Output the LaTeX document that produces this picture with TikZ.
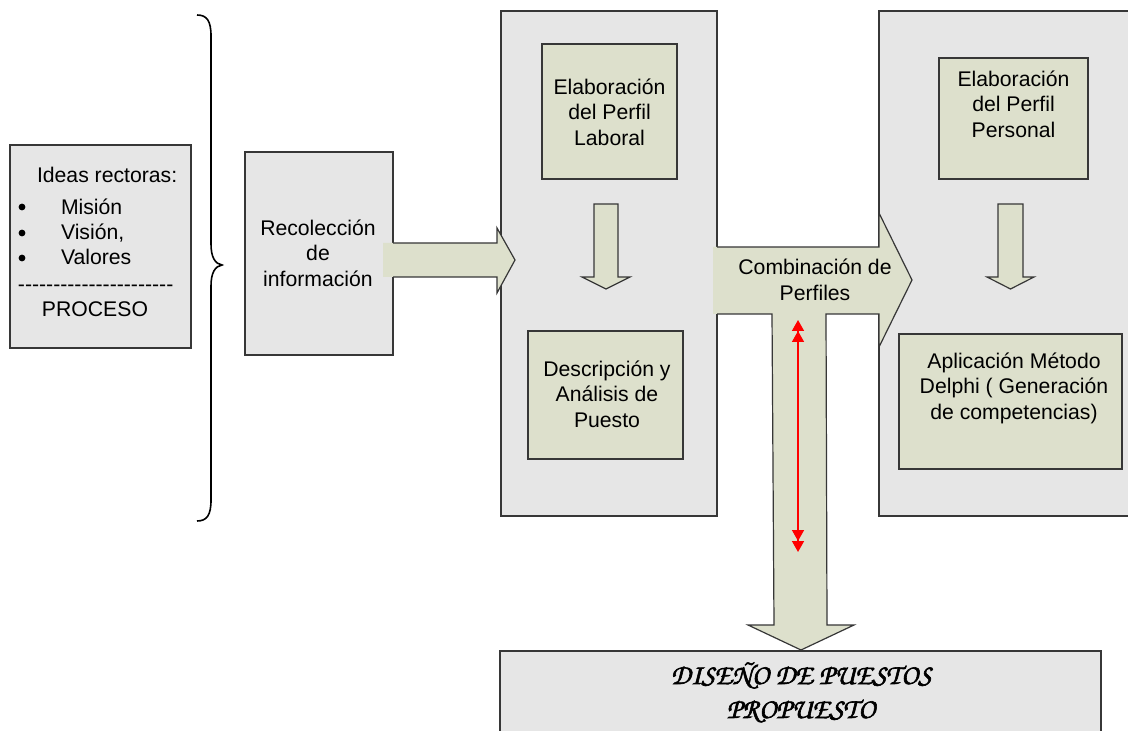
\documentclass[tikz,border=0pt]{standalone}
\usepackage[T1,TU]{fontenc}
\usepackage{fontspec}
\setmainfont{Liberation Sans}
\usetikzlibrary{fit,arrows.meta}
\definecolor{panelgray}{RGB}{230,230,230}
\definecolor{sage}{RGB}{221,224,204}
\definecolor{edge}{RGB}{55,55,55}
\newcommand\chanceryfont{\fontencoding{T1}\fontfamily{pzc}\fontseries{mb}\fontshape{it}\fontsize{14.2}{17}\selectfont}
% fill-and-stroke text rendering to thicken the script lettering
\newcommand\heavytext[1]{\special{pdf:literal 2 Tr 0.3 w}#1\special{pdf:literal 0 Tr}}

\begin{document}
\begin{tikzpicture}[x=0.5pt,y=-0.5pt,
  every node/.style={font=\fontsize{10.6}{12.75}\selectfont, inner sep=0pt, outer sep=0pt},
  panel/.style={draw=edge, fill=panelgray, line width=0.6pt},
  stage/.style={draw=edge, fill=sage, line width=0.6pt},
  label/.style={align=center},
  blockfill/.style={fill=sage, draw=none},
  blockline/.style={draw=edge, line width=0.6pt, line join=miter},
  bullet/.style={circle, fill=black, minimum size=3.4pt},
  twohead/.tip={Triangle[width=6pt,length=5.5pt] Triangle[width=6pt,length=5.5pt]},
  scripttext/.style={font=\chanceryfont, anchor=base, text=black, draw=none},
]
\clip (0,0) rectangle (1128,731);
\fill[white] (0,0) rectangle (1128,731);

% guiding ideas box
\node[panel, fit={(10,145) (191,348)}] (ideas) {};
\node[anchor=base west] (ideastitle) at (37,183) {Ideas rectoras:};
\node[bullet] (b1) at (22,207) {};
\node[bullet] (b2) at (22,233) {};
\node[bullet] (b3) at (22,258) {};
\node[anchor=base west] (mision) at (61,215) {Misión};
\node[anchor=base west] (vision) at (61,240) {Visión,};
\node[anchor=base west] (valores) at (61,264.5) {Valores};
\node[anchor=base west] (rule) at (18,292) {-{}-{}-{}-{}-{}-{}-{}-{}-{}-{}-{}-{}-{}-{}-{}-{}-{}-{}-{}-{}-{}-{}};
\node[anchor=base] (proceso) at (95,317) {PROCESO};

% curly brace
\draw[line width=0.8pt] (197,15) .. controls (207,15) and (211,21) .. (211,36)
  -- (211,244) .. controls (211,257) and (215,264) .. (222,265)
  .. controls (215,266) and (211,273) .. (211,286)
  -- (211,500) .. controls (211,515) and (207,521) .. (197,521);

% information gathering
\node[panel, fit={(245,152) (393,355)}] (recol) {};
\node[label] (recoltext) at (318,253) {Recolección\\de\\información};

% labour profile panel
\node[panel, fit={(501,11) (717,516)}] (midpanel) {};
\node[stage, fit={(542,44) (677,179)}] (lab) {};
\node[label] (labtext) at (609.5,112) {Elaboración\\del Perfil\\Laboral};
\node[stage, fit={(528,331) (683,459)}] (desc) {};
\node[label] (desctext) at (607,394) {Descripción y\\Análisis de\\Puesto};
\path[blockfill] (594,204) -- (618,204) -- (618,277) -- (630,277) -- (606,289) -- (582,277) -- (594,277) -- cycle;
\draw[blockline] (594,204) -- (618,204) -- (618,277) -- (630,277) -- (606,289) -- (582,277) -- (594,277) -- cycle;

% personal profile panel
\node[panel, fit={(879,11) (1140,516)}] (rightpanel) {};
\node[stage, fit={(939,58) (1088,179)}] (pers) {};
\node[label] (perstext) at (1013.5,104) {Elaboración\\del Perfil\\Personal};
\node[stage, fit={(899,334) (1122,469)}] (delphi) {};
\node[label] (delphitext) at (1014,388) {Aplicación Método\\Delphi ( Generación\\de competencias)};
\path[blockfill] (998,204) -- (1023,204) -- (1023,277) -- (1034,277) -- (1010.5,289) -- (987,277) -- (998,277) -- cycle;
\draw[blockline] (998,204) -- (1023,204) -- (1023,277) -- (1034,277) -- (1010.5,289) -- (987,277) -- (998,277) -- cycle;

% arrow into the labour profile panel
\path[blockfill] (383,243) -- (497,243) -- (497,228) -- (515,260) -- (497,293) -- (497,277) -- (383,277) -- cycle;
\draw[blockline] (393,243) -- (497,243) -- (497,228) -- (515,260) -- (497,293) -- (497,277) -- (393,277);

% profile combination arrow with its stem down to the result
\path[blockfill] (713,247) -- (879,247) -- (879,213) -- (912,280) -- (879,347) -- (879,314)
  -- (826,314) -- (827,625) -- (854,625) -- (801,650) -- (748,625) -- (774,625) -- (772,314)
  -- (713,314) -- cycle;
\draw[blockline] (717,247) -- (879,247) -- (879,213) -- (912,280) -- (879,347) -- (879,314)
  -- (826,314) -- (827,625) -- (854,625) -- (801,650) -- (748,625) -- (774,625) -- (772,314)
  -- (717,314);
\node[label] (combtext) at (815,280) {Combinación de\\Perfiles};

% red two-way link
\coordinate (linktop) at (798,320);
\coordinate (linkbot) at (798,552);
\draw[red, line width=0.8pt, twohead-twohead] (linktop) -- (linkbot);

% proposed design
\node[panel, fit={(500,651) (1101,760)}] (design) {};
\node[scripttext] (design1) at (801,684) {\heavytext{DISEÑO DE PUESTOS}};
\node[scripttext] (design2) at (801,718) {\heavytext{PROPUESTO}};
\end{tikzpicture}
\end{document}
